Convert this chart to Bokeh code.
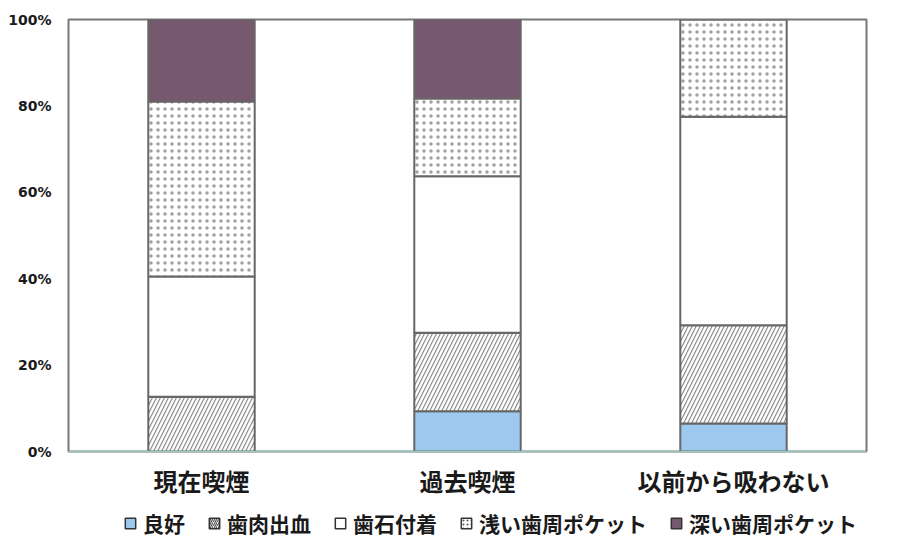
from bokeh.plotting import figure
from bokeh.layouts import column
from bokeh.models import Legend, LegendItem, NumeralTickFormatter, FixedTicker, ColumnDataSource, FactorRange
from bokeh.embed import file_html
from bokeh.resources import INLINE

categories = ["現在喫煙", "過去喫煙", "以前から吸わない"]
series = ["良好", "歯肉出血", "歯石付着", "浅い歯周ポケット", "深い歯周ポケット"]
good = [0.0, 0.093, 0.065]
bleeding = [0.127, 0.182, 0.227]
calculus = [0.278, 0.362, 0.483]
shallow = [0.405, 0.180, 0.225]
deep = [0.190, 0.183, 0.0]
yticks = [0, 0.2, 0.4, 0.6, 0.8, 1.0]

src = ColumnDataSource(dict(cat=categories, s0=good, s1=bleeding, s2=calculus, s3=shallow, s4=deep))
stack_cols = ["s0", "s1", "s2", "s3", "s4"]

FONT = "Noto Sans CJK JP"
p = figure(x_range=categories, y_range=(0, 1), width=920, height=500,
           output_backend="svg", toolbar_location=None,
           min_border_left=68, min_border_right=54, min_border_top=19, min_border_bottom=49)

fills = ["#9ec9ef", "white", "white", "white", "#76596f"]
hatches = [" ", "/", " ", ".", " "]
hcolors = ["#8a8a8a", "#8a8a8a", "#8a8a8a", "#a0a0a0", "#8a8a8a"]
hweights = [1.2, 1.2, 1.2, 1.0, 1.2]
hscales = [8, 8, 8, 7, 8]
renderers = p.vbar_stack(stack_cols, x="cat", width=0.4, source=src,
                         fill_color=fills, hatch_pattern=hatches, hatch_color=hcolors,
                         hatch_scale=hscales, hatch_weight=hweights, line_color="#666666", line_width=2)

p.xgrid.grid_line_color = None
p.ygrid.grid_line_color = None
p.outline_line_color = "#777777"
p.outline_line_width = 2

p.yaxis.ticker = FixedTicker(ticks=yticks)
p.yaxis.formatter = NumeralTickFormatter(format="0%")
p.yaxis.axis_line_color = None
p.yaxis.major_tick_line_color = None
p.yaxis.minor_tick_line_color = None
p.yaxis.major_label_text_font = "DejaVu Sans"
p.yaxis.major_label_text_font_style = "bold"
p.yaxis.major_label_text_font_size = "14px"
p.yaxis.major_label_text_color = "#1a1a1a"
p.yaxis.major_label_standoff = 11

p.xaxis.axis_line_color = "#9cc8c0"
p.xaxis.axis_line_width = 1.5
p.xaxis.major_tick_line_color = None
p.xaxis.minor_tick_line_color = None
p.xaxis.major_label_text_font = FONT
p.xaxis.major_label_text_font_style = "bold"
p.xaxis.major_label_text_font_size = "24px"
p.xaxis.major_label_text_color = "#1a1a1a"
p.xaxis.major_label_standoff = 5

# legend strip below the chart (its markers fall far outside its y range, only the legend shows)
lg = figure(width=920, height=42, x_range=FactorRange(*categories), y_range=(100, 101),
            output_backend="svg", toolbar_location=None,
            min_border_left=0, min_border_right=0, min_border_top=0, min_border_bottom=0)
lg.axis.visible = False
lg.grid.visible = False
lg.outline_line_color = None
leg_renderers = []
for i, col in enumerate(stack_cols):
    r = lg.scatter(x="cat", y=col, source=src, marker="square", size=12,
                   fill_color=fills[i], hatch_pattern=hatches[i], hatch_color="#555555",
                   hatch_scale=4, hatch_weight=1.2, line_color="#333333", line_width=1.5)
    leg_renderers.append(r)
items = [LegendItem(label=s, renderers=[r]) for s, r in zip(series, leg_renderers)]
legend = Legend(items=items, orientation="horizontal", location=(49, 4),
                label_text_font=FONT, label_text_font_style="bold", label_text_font_size="21px",
                label_text_color="#1a1a1a", glyph_width=26, glyph_height=26, spacing=16,
                border_line_color=None, background_fill_alpha=0, padding=0, margin=0,
                label_standoff=0)
lg.add_layout(legend, "center")

layout = column(p, lg, spacing=0)
open("out.html", "w").write(file_html(layout, INLINE))
